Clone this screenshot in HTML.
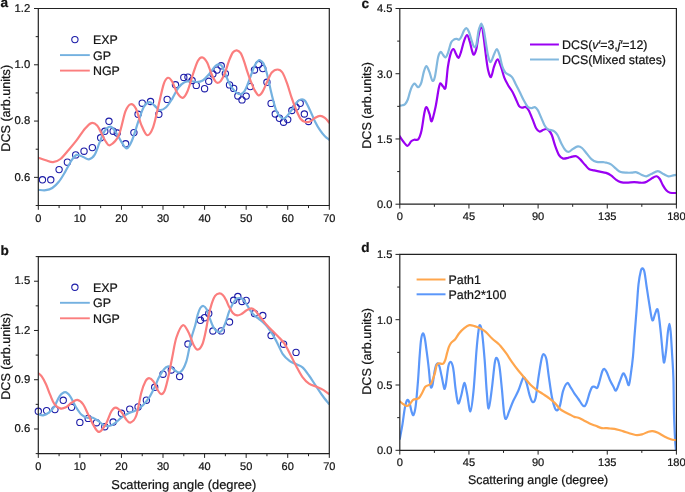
<!DOCTYPE html>
<html><head><meta charset="utf-8"><style>
html,body{margin:0;padding:0;background:#fff;}
body{width:685px;height:492px;overflow:hidden;}
svg{display:block;font-family:"Liberation Sans", sans-serif;fill:#111;will-change:transform;text-rendering:geometricPrecision;}
svg text{fill:#141414;stroke:#141414;stroke-width:0.22px;}
</style></head><body>
<svg width="685" height="492" viewBox="0 0 685 492">
<defs><clipPath id="cA"><rect x="38.3" y="8.5" width="291.0" height="197.0"/></clipPath><clipPath id="cB"><rect x="38.3" y="256.6" width="291.0" height="197.0"/></clipPath><clipPath id="cC"><rect x="399.8" y="8.5" width="276.59999999999997" height="195.7"/></clipPath><clipPath id="cD"><rect x="399.8" y="254.4" width="276.59999999999997" height="195.9"/></clipPath></defs>
<circle cx="42.46" cy="179.80" r="3.15" fill="none" stroke="#1c1ca8" stroke-width="1.1"/>
<circle cx="50.77" cy="179.80" r="3.15" fill="none" stroke="#1c1ca8" stroke-width="1.1"/>
<circle cx="59.09" cy="169.60" r="3.15" fill="none" stroke="#1c1ca8" stroke-width="1.1"/>
<circle cx="67.40" cy="162.20" r="3.15" fill="none" stroke="#1c1ca8" stroke-width="1.1"/>
<circle cx="75.71" cy="154.90" r="3.15" fill="none" stroke="#1c1ca8" stroke-width="1.1"/>
<circle cx="84.03" cy="151.20" r="3.15" fill="none" stroke="#1c1ca8" stroke-width="1.1"/>
<circle cx="92.34" cy="147.60" r="3.15" fill="none" stroke="#1c1ca8" stroke-width="1.1"/>
<circle cx="100.66" cy="137.80" r="3.15" fill="none" stroke="#1c1ca8" stroke-width="1.1"/>
<circle cx="104.81" cy="131.30" r="3.15" fill="none" stroke="#1c1ca8" stroke-width="1.1"/>
<circle cx="108.97" cy="121.30" r="3.15" fill="none" stroke="#1c1ca8" stroke-width="1.1"/>
<circle cx="113.13" cy="131.20" r="3.15" fill="none" stroke="#1c1ca8" stroke-width="1.1"/>
<circle cx="117.29" cy="133.00" r="3.15" fill="none" stroke="#1c1ca8" stroke-width="1.1"/>
<circle cx="125.60" cy="143.80" r="3.15" fill="none" stroke="#1c1ca8" stroke-width="1.1"/>
<circle cx="133.91" cy="132.60" r="3.15" fill="none" stroke="#1c1ca8" stroke-width="1.1"/>
<circle cx="138.07" cy="114.30" r="3.15" fill="none" stroke="#1c1ca8" stroke-width="1.1"/>
<circle cx="142.23" cy="103.20" r="3.15" fill="none" stroke="#1c1ca8" stroke-width="1.1"/>
<circle cx="150.54" cy="101.50" r="3.15" fill="none" stroke="#1c1ca8" stroke-width="1.1"/>
<circle cx="158.86" cy="114.30" r="3.15" fill="none" stroke="#1c1ca8" stroke-width="1.1"/>
<circle cx="167.17" cy="99.40" r="3.15" fill="none" stroke="#1c1ca8" stroke-width="1.1"/>
<circle cx="175.49" cy="84.80" r="3.15" fill="none" stroke="#1c1ca8" stroke-width="1.1"/>
<circle cx="183.80" cy="77.40" r="3.15" fill="none" stroke="#1c1ca8" stroke-width="1.1"/>
<circle cx="187.96" cy="77.10" r="3.15" fill="none" stroke="#1c1ca8" stroke-width="1.1"/>
<circle cx="192.11" cy="80.50" r="3.15" fill="none" stroke="#1c1ca8" stroke-width="1.1"/>
<circle cx="196.27" cy="85.40" r="3.15" fill="none" stroke="#1c1ca8" stroke-width="1.1"/>
<circle cx="204.59" cy="88.70" r="3.15" fill="none" stroke="#1c1ca8" stroke-width="1.1"/>
<circle cx="208.74" cy="81.30" r="3.15" fill="none" stroke="#1c1ca8" stroke-width="1.1"/>
<circle cx="212.90" cy="74.00" r="3.15" fill="none" stroke="#1c1ca8" stroke-width="1.1"/>
<circle cx="217.06" cy="70.10" r="3.15" fill="none" stroke="#1c1ca8" stroke-width="1.1"/>
<circle cx="221.21" cy="65.80" r="3.15" fill="none" stroke="#1c1ca8" stroke-width="1.1"/>
<circle cx="225.37" cy="73.60" r="3.15" fill="none" stroke="#1c1ca8" stroke-width="1.1"/>
<circle cx="229.53" cy="84.90" r="3.15" fill="none" stroke="#1c1ca8" stroke-width="1.1"/>
<circle cx="233.69" cy="88.40" r="3.15" fill="none" stroke="#1c1ca8" stroke-width="1.1"/>
<circle cx="237.84" cy="96.00" r="3.15" fill="none" stroke="#1c1ca8" stroke-width="1.1"/>
<circle cx="242.00" cy="99.90" r="3.15" fill="none" stroke="#1c1ca8" stroke-width="1.1"/>
<circle cx="246.16" cy="96.10" r="3.15" fill="none" stroke="#1c1ca8" stroke-width="1.1"/>
<circle cx="250.31" cy="86.60" r="3.15" fill="none" stroke="#1c1ca8" stroke-width="1.1"/>
<circle cx="254.47" cy="70.00" r="3.15" fill="none" stroke="#1c1ca8" stroke-width="1.1"/>
<circle cx="258.63" cy="64.50" r="3.15" fill="none" stroke="#1c1ca8" stroke-width="1.1"/>
<circle cx="262.79" cy="68.60" r="3.15" fill="none" stroke="#1c1ca8" stroke-width="1.1"/>
<circle cx="266.94" cy="82.30" r="3.15" fill="none" stroke="#1c1ca8" stroke-width="1.1"/>
<circle cx="271.10" cy="103.40" r="3.15" fill="none" stroke="#1c1ca8" stroke-width="1.1"/>
<circle cx="275.26" cy="114.00" r="3.15" fill="none" stroke="#1c1ca8" stroke-width="1.1"/>
<circle cx="279.41" cy="118.30" r="3.15" fill="none" stroke="#1c1ca8" stroke-width="1.1"/>
<circle cx="283.57" cy="122.20" r="3.15" fill="none" stroke="#1c1ca8" stroke-width="1.1"/>
<circle cx="287.73" cy="119.60" r="3.15" fill="none" stroke="#1c1ca8" stroke-width="1.1"/>
<circle cx="291.89" cy="110.50" r="3.15" fill="none" stroke="#1c1ca8" stroke-width="1.1"/>
<circle cx="296.04" cy="107.10" r="3.15" fill="none" stroke="#1c1ca8" stroke-width="1.1"/>
<circle cx="300.20" cy="103.30" r="3.15" fill="none" stroke="#1c1ca8" stroke-width="1.1"/>
<circle cx="304.36" cy="114.00" r="3.15" fill="none" stroke="#1c1ca8" stroke-width="1.1"/>
<circle cx="308.51" cy="121.50" r="3.15" fill="none" stroke="#1c1ca8" stroke-width="1.1"/>
<path d="M38.40 189.90C39.63 189.95 43.48 190.52 45.80 190.20C48.12 189.88 50.13 189.40 52.30 188.00C54.47 186.60 56.63 184.53 58.80 181.80C60.97 179.07 63.13 175.23 65.30 171.60C67.47 167.97 69.90 162.78 71.80 160.00C73.70 157.22 74.80 155.40 76.70 154.90C78.60 154.40 81.17 156.27 83.20 157.00C85.23 157.73 87.00 159.65 88.90 159.30C90.80 158.95 92.83 157.67 94.60 154.90C96.37 152.13 97.87 146.63 99.50 142.70C101.13 138.77 102.62 133.98 104.40 131.30C106.18 128.62 108.47 126.72 110.20 126.60C111.93 126.48 112.93 128.07 114.80 130.60C116.67 133.13 119.42 138.83 121.40 141.80C123.38 144.77 124.93 148.62 126.70 148.40C128.47 148.18 130.02 145.12 132.00 140.50C133.98 135.88 136.62 126.32 138.60 120.70C140.58 115.08 142.13 109.88 143.90 106.80C145.67 103.72 147.45 102.42 149.20 102.20C150.95 101.98 152.65 104.18 154.40 105.50C156.15 106.82 157.75 109.80 159.70 110.10C161.65 110.40 164.02 109.18 166.10 107.30C168.18 105.42 170.17 102.05 172.20 98.80C174.23 95.55 176.27 90.55 178.30 87.80C180.33 85.05 182.37 83.42 184.40 82.30C186.43 81.18 188.47 81.15 190.50 81.10C192.53 81.05 194.57 82.10 196.60 82.00C198.63 81.90 200.67 81.77 202.70 80.50C204.73 79.23 206.77 76.73 208.80 74.40C210.83 72.07 213.32 68.17 214.90 66.50C216.48 64.83 217.18 64.53 218.30 64.40C219.42 64.27 220.50 64.27 221.60 65.70C222.70 67.13 223.80 70.47 224.90 73.00C226.00 75.53 226.98 78.37 228.20 80.90C229.42 83.43 230.77 86.22 232.20 88.20C233.63 90.18 235.38 91.82 236.80 92.80C238.22 93.78 239.38 94.43 240.70 94.10C242.02 93.77 243.48 92.57 244.70 90.80C245.92 89.03 246.90 86.25 248.00 83.50C249.10 80.75 250.20 77.27 251.30 74.30C252.40 71.33 253.50 67.90 254.60 65.70C255.70 63.50 257.02 62.00 257.90 61.10C258.78 60.20 258.98 59.92 259.90 60.30C260.82 60.68 262.32 61.48 263.40 63.40C264.48 65.32 265.52 68.88 266.40 71.80C267.28 74.72 267.93 77.60 268.70 80.90C269.47 84.20 270.23 88.30 271.00 91.60C271.77 94.90 272.42 97.53 273.30 100.70C274.18 103.87 275.15 107.93 276.30 110.60C277.45 113.27 278.92 115.35 280.20 116.70C281.48 118.05 282.73 118.95 284.00 118.70C285.27 118.45 286.42 116.80 287.80 115.20C289.18 113.60 290.78 111.25 292.30 109.10C293.82 106.95 295.50 103.90 296.90 102.30C298.30 100.70 299.35 99.77 300.70 99.50C302.05 99.23 303.42 98.83 305.00 100.70C306.58 102.57 308.52 107.20 310.20 110.70C311.88 114.20 313.47 118.45 315.10 121.70C316.73 124.95 318.37 127.77 320.00 130.20C321.63 132.63 323.35 134.70 324.90 136.30C326.45 137.90 328.57 139.22 329.30 139.80" fill="none" stroke="#74b1e0" stroke-width="2.2" stroke-linejoin="round" stroke-linecap="round" clip-path="url(#cA)"/>
<path d="M38.40 157.70C39.63 158.13 43.35 159.55 45.80 160.30C48.25 161.05 50.67 162.42 53.10 162.20C55.53 161.98 57.82 161.03 60.40 159.00C62.98 156.97 65.88 153.13 68.60 150.00C71.32 146.87 73.98 143.73 76.70 140.20C79.42 136.67 82.45 131.65 84.90 128.80C87.35 125.95 89.37 123.63 91.40 123.10C93.43 122.57 95.33 123.70 97.10 125.60C98.87 127.50 100.52 131.78 102.00 134.50C103.48 137.22 104.63 140.13 106.00 141.90C107.37 143.67 108.07 146.22 110.20 145.10C112.33 143.98 116.27 140.82 118.80 135.20C121.33 129.58 123.42 116.57 125.40 111.40C127.38 106.23 128.93 104.63 130.70 104.20C132.47 103.77 134.25 105.40 136.00 108.80C137.75 112.20 139.33 120.20 141.20 124.60C143.07 129.00 145.22 134.75 147.20 135.20C149.18 135.65 151.23 132.15 153.10 127.30C154.97 122.45 156.63 113.30 158.40 106.10C160.17 98.90 162.12 88.82 163.70 84.10C165.28 79.38 166.48 78.20 167.90 77.80C169.32 77.40 170.67 79.22 172.20 81.70C173.73 84.18 175.37 90.02 177.10 92.70C178.83 95.38 180.88 98.00 182.60 97.80C184.32 97.60 185.68 95.40 187.40 91.50C189.12 87.60 191.17 79.48 192.90 74.40C194.63 69.32 196.27 63.85 197.80 61.00C199.33 58.15 200.57 57.10 202.10 57.30C203.63 57.50 205.48 59.55 207.00 62.20C208.52 64.85 209.87 70.08 211.20 73.20C212.53 76.32 213.93 79.28 215.00 80.90C216.07 82.52 216.62 82.90 217.60 82.90C218.58 82.90 219.68 82.55 220.90 80.90C222.12 79.25 223.57 76.30 224.90 73.00C226.23 69.70 227.58 64.52 228.90 61.10C230.22 57.68 231.48 54.30 232.80 52.50C234.12 50.70 235.48 50.18 236.80 50.30C238.12 50.42 239.50 51.40 240.70 53.20C241.90 55.00 242.90 58.02 244.00 61.10C245.10 64.18 246.20 68.40 247.30 71.70C248.40 75.00 249.38 77.83 250.60 80.90C251.82 83.97 253.27 87.68 254.60 90.10C255.93 92.52 257.27 95.15 258.60 95.40C259.93 95.65 261.17 93.88 262.60 91.60C264.03 89.32 265.67 84.88 267.20 81.70C268.73 78.52 270.07 74.53 271.80 72.50C273.53 70.47 275.83 69.50 277.60 69.50C279.37 69.50 280.83 70.22 282.40 72.50C283.97 74.78 285.47 79.00 287.00 83.20C288.53 87.40 290.07 93.25 291.60 97.70C293.13 102.15 294.68 106.35 296.20 109.90C297.72 113.45 299.17 116.98 300.70 119.00C302.23 121.02 303.82 121.58 305.40 122.00C306.98 122.42 308.58 122.20 310.20 121.50C311.82 120.80 313.47 118.73 315.10 117.80C316.73 116.87 318.37 115.90 320.00 115.90C321.63 115.90 323.35 116.67 324.90 117.80C326.45 118.93 328.57 121.88 329.30 122.70" fill="none" stroke="#fb7e7e" stroke-width="2.2" stroke-linejoin="round" stroke-linecap="round" clip-path="url(#cA)"/>
<path d="M38.3 8.5H329.3V205.5H38.3Z" fill="none" stroke="#222" stroke-width="1.2"/>
<line x1="34.0" y1="177.35714285714286" x2="38.3" y2="177.35714285714286" stroke="#222" stroke-width="1"/>
<line x1="34.0" y1="121.07142857142856" x2="38.3" y2="121.07142857142856" stroke="#222" stroke-width="1"/>
<line x1="34.0" y1="64.78571428571428" x2="38.3" y2="64.78571428571428" stroke="#222" stroke-width="1"/>
<line x1="34.0" y1="8.5" x2="38.3" y2="8.5" stroke="#222" stroke-width="1"/>
<line x1="35.699999999999996" y1="205.49999999999997" x2="38.3" y2="205.49999999999997" stroke="#222" stroke-width="1"/>
<line x1="35.699999999999996" y1="149.21428571428572" x2="38.3" y2="149.21428571428572" stroke="#222" stroke-width="1"/>
<line x1="35.699999999999996" y1="92.92857142857142" x2="38.3" y2="92.92857142857142" stroke="#222" stroke-width="1"/>
<line x1="35.699999999999996" y1="36.64285714285711" x2="38.3" y2="36.64285714285711" stroke="#222" stroke-width="1"/>
<text x="30.199999999999996" y="180.55714285714285" text-anchor="end" font-size="11.3">0.6</text>
<text x="30.199999999999996" y="124.27142857142856" text-anchor="end" font-size="11.3">0.8</text>
<text x="30.199999999999996" y="67.98571428571428" text-anchor="end" font-size="11.3">1.0</text>
<text x="30.199999999999996" y="11.7" text-anchor="end" font-size="11.3">1.2</text>
<line x1="38.3" y1="205.5" x2="38.3" y2="209.8" stroke="#222" stroke-width="1"/>
<line x1="79.87142857142857" y1="205.5" x2="79.87142857142857" y2="209.8" stroke="#222" stroke-width="1"/>
<line x1="121.44285714285714" y1="205.5" x2="121.44285714285714" y2="209.8" stroke="#222" stroke-width="1"/>
<line x1="163.0142857142857" y1="205.5" x2="163.0142857142857" y2="209.8" stroke="#222" stroke-width="1"/>
<line x1="204.5857142857143" y1="205.5" x2="204.5857142857143" y2="209.8" stroke="#222" stroke-width="1"/>
<line x1="246.15714285714284" y1="205.5" x2="246.15714285714284" y2="209.8" stroke="#222" stroke-width="1"/>
<line x1="287.7285714285714" y1="205.5" x2="287.7285714285714" y2="209.8" stroke="#222" stroke-width="1"/>
<line x1="329.3" y1="205.5" x2="329.3" y2="209.8" stroke="#222" stroke-width="1"/>
<line x1="59.08571428571428" y1="205.5" x2="59.08571428571428" y2="208.1" stroke="#222" stroke-width="1"/>
<line x1="100.65714285714284" y1="205.5" x2="100.65714285714284" y2="208.1" stroke="#222" stroke-width="1"/>
<line x1="142.22857142857143" y1="205.5" x2="142.22857142857143" y2="208.1" stroke="#222" stroke-width="1"/>
<line x1="183.8" y1="205.5" x2="183.8" y2="208.1" stroke="#222" stroke-width="1"/>
<line x1="225.37142857142857" y1="205.5" x2="225.37142857142857" y2="208.1" stroke="#222" stroke-width="1"/>
<line x1="266.9428571428571" y1="205.5" x2="266.9428571428571" y2="208.1" stroke="#222" stroke-width="1"/>
<line x1="308.51428571428573" y1="205.5" x2="308.51428571428573" y2="208.1" stroke="#222" stroke-width="1"/>
<text x="38.3" y="221.8" text-anchor="middle" font-size="11">0</text>
<text x="79.87142857142857" y="221.8" text-anchor="middle" font-size="11">10</text>
<text x="121.44285714285714" y="221.8" text-anchor="middle" font-size="11">20</text>
<text x="163.0142857142857" y="221.8" text-anchor="middle" font-size="11">30</text>
<text x="204.5857142857143" y="221.8" text-anchor="middle" font-size="11">40</text>
<text x="246.15714285714284" y="221.8" text-anchor="middle" font-size="11">50</text>
<text x="287.7285714285714" y="221.8" text-anchor="middle" font-size="11">60</text>
<text x="329.3" y="221.8" text-anchor="middle" font-size="11">70</text>
<circle cx="74.90" cy="39.60" r="3.15" fill="none" stroke="#1c1ca8" stroke-width="1.1"/>
<line x1="60" y1="55.1" x2="89.8" y2="55.1" stroke="#74b1e0" stroke-width="1.9"/>
<line x1="60" y1="70.6" x2="89.8" y2="70.6" stroke="#fb7e7e" stroke-width="1.9"/>
<text x="93" y="44.2" font-size="12.4">EXP</text>
<text x="93" y="59.6" font-size="12.4">GP</text>
<text x="93" y="75.0" font-size="12.4">NGP</text>
<text transform="translate(9.8,108.3) rotate(-90)" text-anchor="middle" font-size="12.6">DCS (arb.units)</text>
<text x="0.5" y="6.8" font-size="13.6" font-weight="bold">a</text>
<circle cx="38.30" cy="411.30" r="3.15" fill="none" stroke="#1c1ca8" stroke-width="1.1"/>
<circle cx="46.61" cy="410.60" r="3.15" fill="none" stroke="#1c1ca8" stroke-width="1.1"/>
<circle cx="54.93" cy="409.60" r="3.15" fill="none" stroke="#1c1ca8" stroke-width="1.1"/>
<circle cx="63.24" cy="400.30" r="3.15" fill="none" stroke="#1c1ca8" stroke-width="1.1"/>
<circle cx="71.56" cy="407.30" r="3.15" fill="none" stroke="#1c1ca8" stroke-width="1.1"/>
<circle cx="79.87" cy="422.40" r="3.15" fill="none" stroke="#1c1ca8" stroke-width="1.1"/>
<circle cx="88.19" cy="418.40" r="3.15" fill="none" stroke="#1c1ca8" stroke-width="1.1"/>
<circle cx="96.50" cy="422.70" r="3.15" fill="none" stroke="#1c1ca8" stroke-width="1.1"/>
<circle cx="104.81" cy="426.70" r="3.15" fill="none" stroke="#1c1ca8" stroke-width="1.1"/>
<circle cx="113.13" cy="422.00" r="3.15" fill="none" stroke="#1c1ca8" stroke-width="1.1"/>
<circle cx="121.44" cy="413.30" r="3.15" fill="none" stroke="#1c1ca8" stroke-width="1.1"/>
<circle cx="129.76" cy="409.10" r="3.15" fill="none" stroke="#1c1ca8" stroke-width="1.1"/>
<circle cx="138.07" cy="406.90" r="3.15" fill="none" stroke="#1c1ca8" stroke-width="1.1"/>
<circle cx="146.39" cy="400.20" r="3.15" fill="none" stroke="#1c1ca8" stroke-width="1.1"/>
<circle cx="154.70" cy="387.30" r="3.15" fill="none" stroke="#1c1ca8" stroke-width="1.1"/>
<circle cx="163.01" cy="374.20" r="3.15" fill="none" stroke="#1c1ca8" stroke-width="1.1"/>
<circle cx="171.33" cy="370.00" r="3.15" fill="none" stroke="#1c1ca8" stroke-width="1.1"/>
<circle cx="179.64" cy="376.50" r="3.15" fill="none" stroke="#1c1ca8" stroke-width="1.1"/>
<circle cx="187.96" cy="344.00" r="3.15" fill="none" stroke="#1c1ca8" stroke-width="1.1"/>
<circle cx="200.43" cy="320.30" r="3.15" fill="none" stroke="#1c1ca8" stroke-width="1.1"/>
<circle cx="204.59" cy="317.70" r="3.15" fill="none" stroke="#1c1ca8" stroke-width="1.1"/>
<circle cx="208.74" cy="313.50" r="3.15" fill="none" stroke="#1c1ca8" stroke-width="1.1"/>
<circle cx="212.90" cy="331.00" r="3.15" fill="none" stroke="#1c1ca8" stroke-width="1.1"/>
<circle cx="221.21" cy="330.90" r="3.15" fill="none" stroke="#1c1ca8" stroke-width="1.1"/>
<circle cx="229.53" cy="322.00" r="3.15" fill="none" stroke="#1c1ca8" stroke-width="1.1"/>
<circle cx="233.69" cy="300.30" r="3.15" fill="none" stroke="#1c1ca8" stroke-width="1.1"/>
<circle cx="237.84" cy="296.50" r="3.15" fill="none" stroke="#1c1ca8" stroke-width="1.1"/>
<circle cx="242.00" cy="301.50" r="3.15" fill="none" stroke="#1c1ca8" stroke-width="1.1"/>
<circle cx="246.16" cy="300.40" r="3.15" fill="none" stroke="#1c1ca8" stroke-width="1.1"/>
<circle cx="254.47" cy="313.50" r="3.15" fill="none" stroke="#1c1ca8" stroke-width="1.1"/>
<circle cx="262.79" cy="315.50" r="3.15" fill="none" stroke="#1c1ca8" stroke-width="1.1"/>
<circle cx="271.10" cy="335.50" r="3.15" fill="none" stroke="#1c1ca8" stroke-width="1.1"/>
<circle cx="283.57" cy="344.20" r="3.15" fill="none" stroke="#1c1ca8" stroke-width="1.1"/>
<circle cx="296.04" cy="352.40" r="3.15" fill="none" stroke="#1c1ca8" stroke-width="1.1"/>
<path d="M38.10 414.10C38.93 414.30 41.32 415.53 43.10 415.30C44.88 415.07 46.90 414.20 48.80 412.70C50.70 411.20 52.72 409.03 54.50 406.30C56.28 403.57 57.72 398.67 59.50 396.30C61.28 393.93 63.42 392.10 65.20 392.10C66.98 392.10 68.42 393.82 70.20 396.30C71.98 398.78 74.00 403.92 75.90 407.00C77.80 410.08 79.72 413.02 81.60 414.80C83.48 416.58 85.32 417.22 87.20 417.70C89.08 418.18 91.00 417.12 92.90 417.70C94.80 418.28 96.70 419.90 98.60 421.20C100.50 422.50 102.40 424.73 104.30 425.50C106.20 426.27 108.10 426.28 110.00 425.80C111.90 425.32 113.80 423.97 115.70 422.60C117.60 421.23 119.27 419.15 121.40 417.60C123.53 416.05 126.13 414.48 128.50 413.30C130.87 412.12 133.23 411.80 135.60 410.50C137.97 409.20 140.45 407.63 142.70 405.50C144.95 403.37 147.20 400.55 149.10 397.70C151.00 394.85 152.43 391.83 154.10 388.40C155.77 384.97 157.45 380.30 159.10 377.10C160.75 373.90 162.47 370.98 164.00 369.20C165.53 367.42 167.05 366.67 168.30 366.40C169.55 366.13 169.60 366.58 171.50 367.60C173.40 368.62 177.25 373.45 179.70 372.50C182.15 371.55 184.30 367.47 186.20 361.90C188.10 356.33 189.58 345.25 191.10 339.10C192.62 332.95 194.22 329.02 195.30 325.00C196.38 320.98 196.77 317.83 197.60 315.00C198.43 312.17 199.33 309.50 200.30 308.00C201.27 306.50 202.35 305.78 203.40 306.00C204.45 306.22 205.57 307.33 206.60 309.30C207.63 311.27 208.48 314.85 209.60 317.80C210.72 320.75 211.97 324.67 213.30 327.00C214.63 329.33 216.18 331.20 217.60 331.80C219.02 332.40 220.48 332.12 221.80 330.60C223.12 329.08 224.28 325.85 225.50 322.70C226.72 319.55 227.88 314.85 229.10 311.70C230.32 308.55 231.57 305.93 232.80 303.80C234.03 301.67 235.38 299.87 236.50 298.90C237.62 297.93 238.38 297.90 239.50 298.00C240.62 298.10 241.88 298.23 243.20 299.50C244.52 300.77 246.08 303.57 247.40 305.60C248.72 307.63 249.83 309.97 251.10 311.70C252.37 313.43 253.67 314.77 255.00 316.00C256.33 317.23 257.33 317.63 259.10 319.10C260.87 320.57 263.43 322.37 265.60 324.80C267.77 327.23 270.28 330.93 272.10 333.70C273.92 336.47 274.68 337.95 276.50 341.40C278.32 344.85 280.83 351.15 283.00 354.40C285.17 357.65 287.33 359.28 289.50 360.90C291.67 362.52 293.83 363.02 296.00 364.10C298.17 365.18 300.33 365.50 302.50 367.40C304.67 369.30 306.83 372.52 309.00 375.50C311.17 378.48 313.33 382.05 315.50 385.30C317.67 388.55 319.78 391.90 322.00 395.00C324.22 398.10 327.67 402.42 328.80 403.90" fill="none" stroke="#74b1e0" stroke-width="2.2" stroke-linejoin="round" stroke-linecap="round" clip-path="url(#cB)"/>
<path d="M38.10 373.10C38.70 373.65 40.38 374.55 41.70 376.40C43.02 378.25 44.58 381.12 46.00 384.20C47.42 387.28 48.78 391.57 50.20 394.90C51.62 398.23 52.83 401.95 54.50 404.20C56.17 406.45 58.30 407.88 60.20 408.40C62.10 408.92 64.00 408.25 65.90 407.30C67.80 406.35 69.70 403.93 71.60 402.70C73.50 401.47 75.40 399.65 77.30 399.90C79.20 400.15 81.10 401.58 83.00 404.20C84.90 406.82 86.80 411.82 88.70 415.60C90.60 419.38 92.63 424.18 94.40 426.90C96.17 429.62 97.40 432.37 99.30 431.90C101.20 431.43 103.78 427.53 105.80 424.10C107.82 420.67 109.75 414.05 111.40 411.30C113.05 408.55 114.03 407.50 115.70 407.60C117.37 407.70 119.62 409.88 121.40 411.90C123.18 413.92 124.87 417.92 126.40 419.70C127.93 421.48 128.95 423.30 130.60 422.60C132.25 421.90 134.52 420.48 136.30 415.50C138.08 410.52 139.77 398.40 141.30 392.70C142.83 387.00 144.20 383.72 145.50 381.30C146.80 378.88 147.78 378.20 149.10 378.20C150.42 378.20 151.98 379.35 153.40 381.30C154.82 383.25 156.30 387.77 157.60 389.90C158.90 392.03 160.02 393.98 161.20 394.10C162.38 394.22 163.52 393.43 164.70 390.60C165.88 387.77 167.03 382.70 168.30 377.10C169.57 371.50 170.95 363.60 172.30 357.00C173.65 350.40 174.63 342.80 176.40 337.50C178.17 332.20 180.87 326.02 182.90 325.20C184.93 324.38 186.83 329.33 188.60 332.60C190.37 335.87 192.00 341.95 193.50 344.80C195.00 347.65 196.10 349.83 197.60 349.70C199.10 349.57 201.10 347.28 202.50 344.00C203.90 340.72 205.02 334.57 206.00 330.00C206.98 325.43 207.48 320.87 208.40 316.60C209.32 312.33 210.38 307.85 211.50 304.40C212.62 300.95 213.78 297.73 215.10 295.90C216.42 294.07 218.08 293.52 219.40 293.40C220.72 293.28 221.88 294.08 223.00 295.20C224.12 296.32 225.08 298.17 226.10 300.10C227.12 302.03 227.98 304.67 229.10 306.80C230.22 308.93 231.47 311.47 232.80 312.90C234.13 314.33 235.68 315.20 237.10 315.40C238.52 315.60 239.78 314.92 241.30 314.10C242.82 313.28 244.57 311.47 246.20 310.50C247.83 309.53 249.63 308.32 251.10 308.30C252.57 308.28 253.40 308.87 255.00 310.40C256.60 311.93 258.67 314.97 260.70 317.50C262.73 320.03 265.03 323.17 267.20 325.60C269.37 328.03 271.88 330.28 273.70 332.10C275.52 333.92 276.28 334.55 278.10 336.50C279.92 338.45 282.43 340.55 284.60 343.80C286.77 347.05 289.20 352.35 291.10 356.00C293.00 359.65 294.10 362.18 296.00 365.70C297.90 369.22 300.33 374.12 302.50 377.10C304.67 380.08 306.57 381.97 309.00 383.60C311.43 385.23 314.67 385.82 317.10 386.90C319.53 387.98 321.65 388.93 323.60 390.10C325.55 391.27 327.93 393.27 328.80 393.90" fill="none" stroke="#fb7e7e" stroke-width="2.2" stroke-linejoin="round" stroke-linecap="round" clip-path="url(#cB)"/>
<path d="M38.3 256.6H329.3V453.6H38.3Z" fill="none" stroke="#222" stroke-width="1.2"/>
<line x1="34.0" y1="428.975" x2="38.3" y2="428.975" stroke="#222" stroke-width="1"/>
<line x1="34.0" y1="379.725" x2="38.3" y2="379.725" stroke="#222" stroke-width="1"/>
<line x1="34.0" y1="330.475" x2="38.3" y2="330.475" stroke="#222" stroke-width="1"/>
<line x1="34.0" y1="281.225" x2="38.3" y2="281.225" stroke="#222" stroke-width="1"/>
<line x1="35.699999999999996" y1="453.6" x2="38.3" y2="453.6" stroke="#222" stroke-width="1"/>
<line x1="35.699999999999996" y1="404.35" x2="38.3" y2="404.35" stroke="#222" stroke-width="1"/>
<line x1="35.699999999999996" y1="355.1" x2="38.3" y2="355.1" stroke="#222" stroke-width="1"/>
<line x1="35.699999999999996" y1="305.85" x2="38.3" y2="305.85" stroke="#222" stroke-width="1"/>
<line x1="35.699999999999996" y1="256.6" x2="38.3" y2="256.6" stroke="#222" stroke-width="1"/>
<text x="30.199999999999996" y="432.175" text-anchor="end" font-size="11.3">0.6</text>
<text x="30.199999999999996" y="382.925" text-anchor="end" font-size="11.3">0.9</text>
<text x="30.199999999999996" y="333.675" text-anchor="end" font-size="11.3">1.2</text>
<text x="30.199999999999996" y="284.425" text-anchor="end" font-size="11.3">1.5</text>
<line x1="38.3" y1="453.6" x2="38.3" y2="457.90000000000003" stroke="#222" stroke-width="1"/>
<line x1="79.87142857142857" y1="453.6" x2="79.87142857142857" y2="457.90000000000003" stroke="#222" stroke-width="1"/>
<line x1="121.44285714285714" y1="453.6" x2="121.44285714285714" y2="457.90000000000003" stroke="#222" stroke-width="1"/>
<line x1="163.0142857142857" y1="453.6" x2="163.0142857142857" y2="457.90000000000003" stroke="#222" stroke-width="1"/>
<line x1="204.5857142857143" y1="453.6" x2="204.5857142857143" y2="457.90000000000003" stroke="#222" stroke-width="1"/>
<line x1="246.15714285714284" y1="453.6" x2="246.15714285714284" y2="457.90000000000003" stroke="#222" stroke-width="1"/>
<line x1="287.7285714285714" y1="453.6" x2="287.7285714285714" y2="457.90000000000003" stroke="#222" stroke-width="1"/>
<line x1="329.3" y1="453.6" x2="329.3" y2="457.90000000000003" stroke="#222" stroke-width="1"/>
<line x1="59.08571428571428" y1="453.6" x2="59.08571428571428" y2="456.20000000000005" stroke="#222" stroke-width="1"/>
<line x1="100.65714285714284" y1="453.6" x2="100.65714285714284" y2="456.20000000000005" stroke="#222" stroke-width="1"/>
<line x1="142.22857142857143" y1="453.6" x2="142.22857142857143" y2="456.20000000000005" stroke="#222" stroke-width="1"/>
<line x1="183.8" y1="453.6" x2="183.8" y2="456.20000000000005" stroke="#222" stroke-width="1"/>
<line x1="225.37142857142857" y1="453.6" x2="225.37142857142857" y2="456.20000000000005" stroke="#222" stroke-width="1"/>
<line x1="266.9428571428571" y1="453.6" x2="266.9428571428571" y2="456.20000000000005" stroke="#222" stroke-width="1"/>
<line x1="308.51428571428573" y1="453.6" x2="308.51428571428573" y2="456.20000000000005" stroke="#222" stroke-width="1"/>
<text x="38.3" y="469.90000000000003" text-anchor="middle" font-size="11">0</text>
<text x="79.87142857142857" y="469.90000000000003" text-anchor="middle" font-size="11">10</text>
<text x="121.44285714285714" y="469.90000000000003" text-anchor="middle" font-size="11">20</text>
<text x="163.0142857142857" y="469.90000000000003" text-anchor="middle" font-size="11">30</text>
<text x="204.5857142857143" y="469.90000000000003" text-anchor="middle" font-size="11">40</text>
<text x="246.15714285714284" y="469.90000000000003" text-anchor="middle" font-size="11">50</text>
<text x="287.7285714285714" y="469.90000000000003" text-anchor="middle" font-size="11">60</text>
<text x="329.3" y="469.90000000000003" text-anchor="middle" font-size="11">70</text>
<circle cx="74.90" cy="287.30" r="3.15" fill="none" stroke="#1c1ca8" stroke-width="1.1"/>
<line x1="60" y1="302.8" x2="89.8" y2="302.8" stroke="#74b1e0" stroke-width="1.9"/>
<line x1="60" y1="318.29999999999995" x2="89.8" y2="318.29999999999995" stroke="#fb7e7e" stroke-width="1.9"/>
<text x="93" y="291.9" font-size="12.4">EXP</text>
<text x="93" y="307.3" font-size="12.4">GP</text>
<text x="93" y="322.7" font-size="12.4">NGP</text>
<text transform="translate(9.8,356.40000000000003) rotate(-90)" text-anchor="middle" font-size="12.6">DCS (arb.units)</text>
<text x="183.8" y="489.2" text-anchor="middle" font-size="12.85">Scattering angle (degree)</text>
<text x="0.5" y="254.6" font-size="13.6" font-weight="bold">b</text>
<path d="M399.60 136.20C400.18 137.05 401.78 139.70 403.10 141.30C404.42 142.90 406.15 145.80 407.50 145.80C408.85 145.80 410.07 142.32 411.20 141.30C412.33 140.28 413.12 140.03 414.30 139.70C415.48 139.37 417.12 140.73 418.30 139.30C419.48 137.87 420.38 135.52 421.40 131.10C422.42 126.68 423.55 116.78 424.40 112.80C425.25 108.82 425.65 107.02 426.50 107.20C427.35 107.38 428.63 111.57 429.50 113.90C430.37 116.23 430.68 122.40 431.70 121.20C432.72 120.00 434.43 112.15 435.60 106.70C436.77 101.25 437.90 92.40 438.70 88.50C439.50 84.60 439.68 83.65 440.40 83.30C441.12 82.95 442.13 85.70 443.00 86.40C443.87 87.10 444.78 90.75 445.60 87.50C446.42 84.25 447.03 72.63 447.90 66.90C448.77 61.17 449.85 56.08 450.80 53.10C451.75 50.12 452.73 48.87 453.60 49.00C454.47 49.13 455.18 52.40 456.00 53.90C456.82 55.40 457.68 58.27 458.50 58.00C459.32 57.73 459.97 55.15 460.90 52.30C461.83 49.45 463.07 43.75 464.10 40.90C465.13 38.05 466.15 35.07 467.10 35.20C468.05 35.33 468.98 39.12 469.80 41.70C470.62 44.28 471.32 48.53 472.00 50.70C472.68 52.87 473.18 54.98 473.90 54.70C474.62 54.42 475.48 52.38 476.30 49.00C477.12 45.62 477.92 38.35 478.80 34.40C479.68 30.45 480.78 24.77 481.60 25.30C482.42 25.83 482.95 32.28 483.70 37.60C484.45 42.92 485.35 51.72 486.10 57.20C486.85 62.68 487.38 67.20 488.20 70.50C489.02 73.80 490.02 77.68 491.00 77.00C491.98 76.32 493.00 69.35 494.10 66.40C495.20 63.45 496.47 59.30 497.60 59.30C498.73 59.30 499.78 63.35 500.90 66.40C502.02 69.45 503.05 74.38 504.30 77.60C505.55 80.82 507.05 83.33 508.40 85.70C509.75 88.07 511.22 89.72 512.40 91.80C513.58 93.88 514.38 95.80 515.50 98.20C516.62 100.60 517.97 104.63 519.10 106.20C520.23 107.77 521.22 107.48 522.30 107.60C523.38 107.72 524.52 106.42 525.60 106.90C526.68 107.38 527.58 108.28 528.80 110.50C530.02 112.72 531.68 117.23 532.90 120.20C534.12 123.17 535.02 126.42 536.10 128.30C537.18 130.18 538.27 131.20 539.40 131.50C540.53 131.80 541.83 130.52 542.90 130.10C543.97 129.68 544.85 129.00 545.80 129.00C546.75 129.00 547.60 129.10 548.60 130.10C549.60 131.10 550.72 132.42 551.80 135.00C552.88 137.58 553.87 142.20 555.10 145.60C556.33 149.00 557.85 153.23 559.20 155.40C560.55 157.57 561.72 158.20 563.20 158.60C564.68 159.00 566.60 158.12 568.10 157.80C569.60 157.48 570.83 156.97 572.20 156.70C573.57 156.43 574.95 155.75 576.30 156.20C577.65 156.65 578.82 157.92 580.30 159.40C581.78 160.88 583.70 163.47 585.20 165.10C586.70 166.73 587.80 168.32 589.30 169.20C590.80 170.08 592.43 169.98 594.20 170.40C595.97 170.82 597.92 171.28 599.90 171.70C601.88 172.12 604.25 172.28 606.10 172.90C607.95 173.52 609.37 174.28 611.00 175.40C612.63 176.52 614.28 178.48 615.90 179.60C617.52 180.72 618.88 181.58 620.70 182.10C622.52 182.62 624.57 182.70 626.80 182.70C629.03 182.70 631.87 182.10 634.10 182.10C636.33 182.10 638.37 182.65 640.20 182.70C642.03 182.75 643.47 182.92 645.10 182.40C646.73 181.88 648.57 180.47 650.00 179.60C651.43 178.73 652.58 177.75 653.70 177.20C654.82 176.65 655.68 176.00 656.70 176.30C657.72 176.60 658.78 177.53 659.80 179.00C660.82 180.47 661.68 183.17 662.80 185.10C663.92 187.03 665.28 189.33 666.50 190.60C667.72 191.87 668.45 192.30 670.10 192.70C671.75 193.10 675.35 192.95 676.40 193.00" fill="none" stroke="#9a00f2" stroke-width="2.2" stroke-linejoin="round" stroke-linecap="round" clip-path="url(#cC)"/>
<path d="M399.60 105.70C400.08 105.63 401.57 105.58 402.50 105.30C403.43 105.02 404.32 104.97 405.20 104.00C406.08 103.03 407.00 101.53 407.80 99.50C408.60 97.47 409.30 93.95 410.00 91.80C410.70 89.65 411.28 87.97 412.00 86.60C412.72 85.23 413.63 83.87 414.30 83.60C414.97 83.33 415.45 84.43 416.00 85.00C416.55 85.57 417.05 86.75 417.60 87.00C418.15 87.25 418.67 87.27 419.30 86.50C419.93 85.73 420.62 84.95 421.40 82.40C422.18 79.85 423.15 73.92 424.00 71.20C424.85 68.48 425.58 65.93 426.50 66.10C427.42 66.27 428.52 69.77 429.50 72.20C430.48 74.63 431.50 79.95 432.40 80.70C433.30 81.45 433.95 80.62 434.90 76.70C435.85 72.78 437.15 61.32 438.10 57.20C439.05 53.08 439.78 52.42 440.60 52.00C441.42 51.58 442.20 53.78 443.00 54.70C443.80 55.62 444.58 57.77 445.40 57.50C446.22 57.23 446.95 55.60 447.90 53.10C448.85 50.60 450.02 44.80 451.10 42.50C452.18 40.20 453.45 39.90 454.40 39.30C455.35 38.70 455.98 38.85 456.80 38.90C457.62 38.95 458.48 40.08 459.30 39.60C460.12 39.12 460.90 37.55 461.70 36.00C462.50 34.45 463.28 31.60 464.10 30.30C464.92 29.00 465.78 27.92 466.60 28.20C467.42 28.48 468.18 30.02 469.00 32.00C469.82 33.98 470.68 37.67 471.50 40.10C472.32 42.53 473.10 45.78 473.90 46.60C474.70 47.42 475.53 47.58 476.30 45.00C477.07 42.42 477.77 34.50 478.50 31.10C479.23 27.70 480.17 25.73 480.70 24.60C481.23 23.47 481.20 23.48 481.70 24.30C482.20 25.12 482.97 26.20 483.70 29.50C484.43 32.80 485.35 39.63 486.10 44.10C486.85 48.57 487.43 53.32 488.20 56.30C488.97 59.28 489.72 62.35 490.70 62.00C491.68 61.65 493.08 56.35 494.10 54.20C495.12 52.05 495.88 48.93 496.80 49.10C497.72 49.27 498.68 52.32 499.60 55.20C500.52 58.08 501.35 63.52 502.30 66.40C503.25 69.28 504.12 71.07 505.30 72.50C506.48 73.93 508.22 74.15 509.40 75.00C510.58 75.85 511.38 76.15 512.40 77.60C513.42 79.05 514.30 81.33 515.50 83.70C516.70 86.07 518.25 89.08 519.60 91.80C520.95 94.52 522.25 97.52 523.60 100.00C524.95 102.48 526.35 105.35 527.70 106.70C529.05 108.05 530.52 108.03 531.70 108.10C532.88 108.17 533.78 106.77 534.80 107.10C535.82 107.43 536.72 108.30 537.80 110.10C538.88 111.90 540.18 115.38 541.30 117.90C542.42 120.42 543.42 123.30 544.50 125.20C545.58 127.10 546.72 128.48 547.80 129.30C548.88 130.12 549.92 129.77 551.00 130.10C552.08 130.43 553.22 130.48 554.30 131.30C555.38 132.12 556.28 132.88 557.50 135.00C558.72 137.12 560.23 141.42 561.60 144.00C562.97 146.58 564.48 149.20 565.70 150.50C566.92 151.80 567.68 152.07 568.90 151.80C570.12 151.53 571.50 149.80 573.00 148.90C574.50 148.00 576.40 146.55 577.90 146.40C579.40 146.25 580.50 146.78 582.00 148.00C583.50 149.22 585.28 151.80 586.90 153.70C588.52 155.60 590.08 158.03 591.70 159.40C593.32 160.77 594.70 161.43 596.60 161.90C598.50 162.37 601.52 162.08 603.10 162.20C604.68 162.32 604.78 162.23 606.10 162.60C607.42 162.97 609.37 163.38 611.00 164.40C612.63 165.42 614.28 167.43 615.90 168.70C617.52 169.97 618.88 171.33 620.70 172.00C622.52 172.67 624.97 172.58 626.80 172.70C628.63 172.82 630.07 172.77 631.70 172.70C633.33 172.63 634.97 171.95 636.60 172.30C638.23 172.65 639.88 174.13 641.50 174.80C643.12 175.47 644.68 176.42 646.30 176.30C647.92 176.18 649.27 174.97 651.20 174.10C653.13 173.23 655.87 171.10 657.90 171.10C659.93 171.10 661.67 173.23 663.40 174.10C665.13 174.97 666.67 176.08 668.30 176.30C669.93 176.52 671.85 175.65 673.20 175.40C674.55 175.15 675.87 174.90 676.40 174.80" fill="none" stroke="#82b8de" stroke-width="2.2" stroke-linejoin="round" stroke-linecap="round" clip-path="url(#cC)"/>
<path d="M399.8 8.5H676.4V204.2H399.8Z" fill="none" stroke="#222" stroke-width="1.2"/>
<line x1="395.5" y1="204.2" x2="399.8" y2="204.2" stroke="#222" stroke-width="1"/>
<line x1="395.5" y1="138.96666666666667" x2="399.8" y2="138.96666666666667" stroke="#222" stroke-width="1"/>
<line x1="395.5" y1="73.73333333333335" x2="399.8" y2="73.73333333333335" stroke="#222" stroke-width="1"/>
<line x1="395.5" y1="8.5" x2="399.8" y2="8.5" stroke="#222" stroke-width="1"/>
<line x1="397.2" y1="171.58333333333331" x2="399.8" y2="171.58333333333331" stroke="#222" stroke-width="1"/>
<line x1="397.2" y1="106.35" x2="399.8" y2="106.35" stroke="#222" stroke-width="1"/>
<line x1="397.2" y1="41.116666666666646" x2="399.8" y2="41.116666666666646" stroke="#222" stroke-width="1"/>
<text x="392.3" y="208.1" text-anchor="end" font-size="11.1">0.0</text>
<text x="392.3" y="142.86666666666667" text-anchor="end" font-size="11.1">1.5</text>
<text x="392.3" y="77.63333333333335" text-anchor="end" font-size="11.1">3.0</text>
<text x="392.3" y="12.4" text-anchor="end" font-size="11.1">4.5</text>
<line x1="399.8" y1="204.2" x2="399.8" y2="208.5" stroke="#222" stroke-width="1"/>
<line x1="468.95" y1="204.2" x2="468.95" y2="208.5" stroke="#222" stroke-width="1"/>
<line x1="538.1" y1="204.2" x2="538.1" y2="208.5" stroke="#222" stroke-width="1"/>
<line x1="607.25" y1="204.2" x2="607.25" y2="208.5" stroke="#222" stroke-width="1"/>
<line x1="676.4" y1="204.2" x2="676.4" y2="208.5" stroke="#222" stroke-width="1"/>
<line x1="434.375" y1="204.2" x2="434.375" y2="206.79999999999998" stroke="#222" stroke-width="1"/>
<line x1="503.525" y1="204.2" x2="503.525" y2="206.79999999999998" stroke="#222" stroke-width="1"/>
<line x1="572.675" y1="204.2" x2="572.675" y2="206.79999999999998" stroke="#222" stroke-width="1"/>
<line x1="641.8249999999999" y1="204.2" x2="641.8249999999999" y2="206.79999999999998" stroke="#222" stroke-width="1"/>
<text x="399.8" y="220.0" text-anchor="middle" font-size="11.1">0</text>
<text x="468.95" y="220.0" text-anchor="middle" font-size="11.1">45</text>
<text x="538.1" y="220.0" text-anchor="middle" font-size="11.1">90</text>
<text x="607.25" y="220.0" text-anchor="middle" font-size="11.1">135</text>
<text x="676.4" y="220.0" text-anchor="middle" font-size="11.1">180</text>
<line x1="530" y1="44.5" x2="558.9" y2="44.5" stroke="#9a00f2" stroke-width="2"/>
<line x1="530" y1="59.5" x2="558.9" y2="59.5" stroke="#82b8de" stroke-width="2"/>
<text x="562" y="48.6" font-size="12.4">DCS(<tspan font-style="italic">v</tspan>′<tspan dx="-0.6">=3,</tspan><tspan font-style="italic">j</tspan>′<tspan dx="-0.6">=12)</tspan></text>
<text x="562" y="63.6" font-size="12.4">DCS(Mixed states)</text>
<text transform="translate(371.3,105.35) rotate(-90)" text-anchor="middle" font-size="12.6">DCS (arb.units)</text>
<text x="361.5" y="7.9" font-size="13.6" font-weight="bold">c</text>
<path d="M399.80 438.90C400.25 436.43 401.67 429.22 402.50 424.10C403.33 418.98 404.03 412.18 404.80 408.20C405.57 404.22 406.33 401.15 407.10 400.20C407.87 399.25 408.65 400.60 409.40 402.50C410.15 404.40 410.92 409.52 411.60 411.60C412.28 413.68 412.82 415.95 413.50 415.00C414.18 414.05 414.95 411.58 415.70 405.90C416.45 400.22 417.35 389.12 418.00 380.90C418.65 372.68 419.08 363.50 419.60 356.60C420.12 349.70 420.53 343.37 421.10 339.50C421.67 335.63 422.38 333.60 423.00 333.40C423.62 333.20 424.18 335.25 424.80 338.30C425.42 341.35 426.03 346.62 426.70 351.70C427.37 356.78 428.22 363.42 428.80 368.80C429.38 374.18 429.80 380.85 430.20 384.00C430.60 387.15 430.80 387.62 431.20 387.70C431.60 387.78 432.03 387.25 432.60 384.50C433.17 381.75 434.02 374.43 434.60 371.20C435.18 367.97 435.58 366.42 436.10 365.10C436.62 363.78 437.15 363.10 437.70 363.30C438.25 363.50 438.75 364.17 439.40 366.30C440.05 368.43 440.93 372.98 441.60 376.10C442.27 379.22 442.90 382.87 443.40 385.00C443.90 387.13 444.18 389.07 444.60 388.90C445.02 388.73 445.27 387.82 445.90 384.00C446.53 380.18 447.63 369.70 448.40 366.00C449.17 362.30 449.80 361.88 450.50 361.80C451.20 361.72 452.05 363.73 452.60 365.50C453.15 367.27 453.30 368.47 453.80 372.40C454.30 376.33 454.87 383.93 455.60 389.10C456.33 394.27 457.25 402.38 458.20 403.40C459.15 404.42 460.28 398.60 461.30 395.20C462.32 391.80 463.35 383.33 464.30 383.00C465.25 382.67 465.98 388.45 467.00 393.20C468.02 397.95 469.32 411.83 470.40 411.50C471.48 411.17 472.48 401.37 473.50 391.20C474.52 381.03 475.65 360.67 476.50 350.50C477.35 340.33 478.02 334.43 478.60 330.20C479.18 325.97 479.43 324.77 480.00 325.10C480.57 325.43 481.22 326.27 482.00 332.20C482.78 338.13 483.92 350.87 484.70 360.70C485.48 370.53 486.03 383.23 486.70 391.20C487.37 399.17 487.85 408.85 488.70 408.50C489.55 408.15 490.78 396.73 491.80 389.10C492.82 381.47 493.95 367.85 494.80 362.70C495.65 357.55 496.12 357.52 496.90 358.20C497.68 358.88 498.67 361.65 499.50 366.80C500.33 371.95 501.13 381.37 501.90 389.10C502.67 396.83 503.40 408.23 504.10 413.20C504.80 418.17 505.25 419.23 506.10 418.90C506.95 418.57 508.02 414.18 509.20 411.20C510.38 408.22 511.68 404.40 513.20 401.00C514.72 397.60 516.60 394.70 518.30 390.80C520.00 386.90 522.05 378.95 523.40 377.60C524.75 376.25 525.38 379.82 526.40 382.70C527.42 385.58 528.48 391.68 529.50 394.90C530.52 398.12 531.48 401.48 532.50 402.00C533.52 402.52 534.58 402.23 535.60 398.00C536.62 393.77 537.58 383.22 538.60 376.60C539.62 369.98 540.85 362.03 541.70 358.30C542.55 354.57 542.92 354.03 543.70 354.20C544.48 354.37 545.55 355.57 546.40 359.30C547.25 363.03 547.88 370.32 548.80 376.60C549.72 382.88 550.88 391.75 551.90 397.00C552.92 402.25 553.98 405.90 554.90 408.10C555.82 410.30 556.53 410.70 557.40 410.20C558.27 409.70 559.15 408.33 560.10 405.10C561.05 401.87 561.92 394.47 563.10 390.80C564.28 387.13 566.00 383.77 567.20 383.10C568.40 382.43 569.12 385.10 570.30 386.80C571.48 388.50 572.95 391.27 574.30 393.30C575.65 395.33 576.87 396.87 578.40 399.00C579.93 401.13 582.15 405.43 583.50 406.10C584.85 406.77 585.48 405.20 586.50 403.00C587.52 400.80 588.68 395.53 589.60 392.90C590.52 390.27 591.15 388.22 592.00 387.20C592.85 386.18 593.82 386.70 594.70 386.80C595.58 386.90 596.47 388.82 597.30 387.80C598.13 386.78 598.88 383.42 599.70 380.70C600.52 377.98 601.45 373.47 602.20 371.50C602.95 369.53 603.42 368.73 604.20 368.90C604.98 369.07 605.95 370.65 606.90 372.50C607.85 374.35 608.85 377.70 609.90 380.00C610.95 382.30 612.18 384.55 613.20 386.30C614.22 388.05 614.93 391.22 616.00 390.50C617.07 389.78 618.40 384.83 619.60 382.00C620.80 379.17 622.13 374.22 623.20 373.50C624.27 372.78 625.07 375.75 626.00 377.70C626.93 379.65 627.98 385.90 628.80 385.20C629.62 384.50 630.20 378.30 630.90 373.50C631.60 368.70 632.42 362.43 633.00 356.40C633.58 350.37 633.82 344.88 634.40 337.30C634.98 329.72 635.82 319.72 636.50 310.90C637.18 302.08 637.78 291.05 638.50 284.40C639.22 277.75 640.12 273.68 640.80 271.00C641.48 268.32 641.98 268.10 642.60 268.30C643.22 268.50 643.83 269.17 644.50 272.20C645.17 275.23 645.80 281.20 646.60 286.50C647.40 291.80 648.35 298.38 649.30 304.00C650.25 309.62 651.33 318.57 652.30 320.20C653.27 321.83 654.23 315.63 655.10 313.80C655.97 311.97 656.80 308.28 657.50 309.20C658.20 310.12 658.70 314.87 659.30 319.30C659.90 323.73 660.48 329.68 661.10 335.80C661.72 341.92 662.48 351.57 663.00 356.00C663.52 360.43 663.68 363.32 664.20 362.40C664.72 361.48 665.48 355.55 666.10 350.50C666.72 345.45 667.35 336.53 667.90 332.10C668.45 327.67 668.93 323.90 669.40 323.90C669.87 323.90 670.25 327.07 670.70 332.10C671.15 337.13 671.65 346.45 672.10 354.10C672.55 361.75 673.08 368.02 673.40 378.00C673.72 387.98 673.72 403.73 674.00 414.00C674.28 424.27 674.78 433.60 675.10 439.60C675.42 445.60 675.77 448.27 675.90 450.00" fill="none" stroke="#5b97fa" stroke-width="2.2" stroke-linejoin="round" stroke-linecap="round" clip-path="url(#cD)"/>
<path d="M399.80 401.40C400.25 401.77 401.38 402.83 402.50 403.60C403.62 404.37 405.33 405.83 406.50 406.00C407.67 406.17 408.40 405.62 409.50 404.60C410.60 403.58 411.82 400.85 413.10 399.90C414.38 398.95 416.12 399.35 417.20 398.90C418.28 398.45 418.72 398.32 419.60 397.20C420.48 396.08 421.55 393.93 422.50 392.20C423.45 390.47 424.28 387.98 425.30 386.80C426.32 385.62 427.65 385.63 428.60 385.10C429.55 384.57 430.27 384.63 431.00 383.60C431.73 382.57 432.32 380.77 433.00 378.90C433.68 377.03 434.48 374.70 435.10 372.40C435.72 370.10 436.03 366.62 436.70 365.10C437.37 363.58 438.28 363.50 439.10 363.30C439.92 363.10 440.88 363.85 441.60 363.90C442.32 363.95 442.80 364.22 443.40 363.60C444.00 362.98 444.58 361.98 445.20 360.20C445.82 358.42 446.48 355.13 447.10 352.90C447.72 350.67 448.20 348.52 448.90 346.80C449.60 345.08 450.25 343.85 451.30 342.60C452.35 341.35 453.88 340.87 455.20 339.30C456.52 337.73 457.68 335.07 459.20 333.20C460.72 331.33 462.60 329.45 464.30 328.10C466.00 326.75 467.70 325.43 469.40 325.10C471.10 324.77 472.80 325.60 474.50 326.10C476.20 326.60 477.73 327.15 479.60 328.10C481.47 329.05 483.67 330.10 485.70 331.80C487.73 333.50 489.77 336.37 491.80 338.30C493.83 340.23 496.45 342.12 497.90 343.40C499.35 344.68 499.13 344.37 500.50 346.00C501.87 347.63 504.15 350.47 506.10 353.20C508.05 355.93 510.17 359.52 512.20 362.40C514.23 365.28 516.27 367.97 518.30 370.50C520.33 373.03 522.37 375.23 524.40 377.60C526.43 379.97 528.47 382.67 530.50 384.70C532.53 386.73 534.57 388.27 536.60 389.80C538.63 391.33 540.67 392.53 542.70 393.90C544.73 395.27 546.77 396.48 548.80 398.00C550.83 399.52 553.02 401.15 554.90 403.00C556.78 404.85 558.38 407.57 560.10 409.10C561.82 410.63 563.50 411.25 565.20 412.20C566.90 413.15 568.78 414.02 570.30 414.80C571.82 415.58 572.95 416.42 574.30 416.90C575.65 417.38 576.87 417.13 578.40 417.70C579.93 418.27 581.63 419.35 583.50 420.30C585.37 421.25 587.57 422.48 589.60 423.40C591.63 424.32 593.67 425.02 595.70 425.80C597.73 426.58 599.93 427.72 601.80 428.10C603.67 428.48 605.53 428.03 606.90 428.10C608.27 428.17 608.42 428.28 610.00 428.50C611.58 428.72 614.27 428.97 616.40 429.40C618.53 429.83 620.67 430.47 622.80 431.10C624.93 431.73 627.07 432.55 629.20 433.20C631.33 433.85 633.47 434.80 635.60 435.00C637.73 435.20 639.87 434.95 642.00 434.40C644.13 433.85 646.62 432.25 648.40 431.70C650.18 431.15 651.10 430.92 652.70 431.10C654.30 431.28 656.05 431.92 658.00 432.80C659.95 433.68 662.27 435.33 664.40 436.40C666.53 437.47 668.88 438.58 670.80 439.20C672.72 439.82 675.05 439.95 675.90 440.10" fill="none" stroke="#ffa64d" stroke-width="2.2" stroke-linejoin="round" stroke-linecap="round" clip-path="url(#cD)"/>
<path d="M399.8 254.4H676.4V450.3H399.8Z" fill="none" stroke="#222" stroke-width="1.2"/>
<line x1="395.5" y1="450.3" x2="399.8" y2="450.3" stroke="#222" stroke-width="1"/>
<line x1="395.5" y1="385.0" x2="399.8" y2="385.0" stroke="#222" stroke-width="1"/>
<line x1="395.5" y1="319.70000000000005" x2="399.8" y2="319.70000000000005" stroke="#222" stroke-width="1"/>
<line x1="395.5" y1="254.4" x2="399.8" y2="254.4" stroke="#222" stroke-width="1"/>
<line x1="397.2" y1="417.65000000000003" x2="399.8" y2="417.65000000000003" stroke="#222" stroke-width="1"/>
<line x1="397.2" y1="352.35" x2="399.8" y2="352.35" stroke="#222" stroke-width="1"/>
<line x1="397.2" y1="287.05" x2="399.8" y2="287.05" stroke="#222" stroke-width="1"/>
<text x="392.3" y="454.2" text-anchor="end" font-size="11.1">0.0</text>
<text x="392.3" y="388.9" text-anchor="end" font-size="11.1">0.5</text>
<text x="392.3" y="323.6" text-anchor="end" font-size="11.1">1.0</text>
<text x="392.3" y="258.3" text-anchor="end" font-size="11.1">1.5</text>
<line x1="399.8" y1="450.3" x2="399.8" y2="454.6" stroke="#222" stroke-width="1"/>
<line x1="468.95" y1="450.3" x2="468.95" y2="454.6" stroke="#222" stroke-width="1"/>
<line x1="538.1" y1="450.3" x2="538.1" y2="454.6" stroke="#222" stroke-width="1"/>
<line x1="607.25" y1="450.3" x2="607.25" y2="454.6" stroke="#222" stroke-width="1"/>
<line x1="676.4" y1="450.3" x2="676.4" y2="454.6" stroke="#222" stroke-width="1"/>
<line x1="434.375" y1="450.3" x2="434.375" y2="452.90000000000003" stroke="#222" stroke-width="1"/>
<line x1="503.525" y1="450.3" x2="503.525" y2="452.90000000000003" stroke="#222" stroke-width="1"/>
<line x1="572.675" y1="450.3" x2="572.675" y2="452.90000000000003" stroke="#222" stroke-width="1"/>
<line x1="641.8249999999999" y1="450.3" x2="641.8249999999999" y2="452.90000000000003" stroke="#222" stroke-width="1"/>
<text x="399.8" y="466.1" text-anchor="middle" font-size="11.1">0</text>
<text x="468.95" y="466.1" text-anchor="middle" font-size="11.1">45</text>
<text x="538.1" y="466.1" text-anchor="middle" font-size="11.1">90</text>
<text x="607.25" y="466.1" text-anchor="middle" font-size="11.1">135</text>
<text x="676.4" y="466.1" text-anchor="middle" font-size="11.1">180</text>
<line x1="416.6" y1="279.5" x2="445.5" y2="279.5" stroke="#ffa64d" stroke-width="2"/>
<line x1="416.6" y1="294.3" x2="445.5" y2="294.3" stroke="#5b97fa" stroke-width="2"/>
<text x="448.5" y="283.7" font-size="12.4">Path1</text>
<text x="448.5" y="298.6" font-size="12.4">Path2*100</text>
<text transform="translate(371.3,351.35) rotate(-90)" text-anchor="middle" font-size="12.6">DCS (arb.units)</text>
<text x="538.1" y="484.4" text-anchor="middle" font-size="12.45">Scattering angle (degree)</text>
<text x="361.3" y="251.8" font-size="13.6" font-weight="bold">d</text>
</svg>
</body></html>
